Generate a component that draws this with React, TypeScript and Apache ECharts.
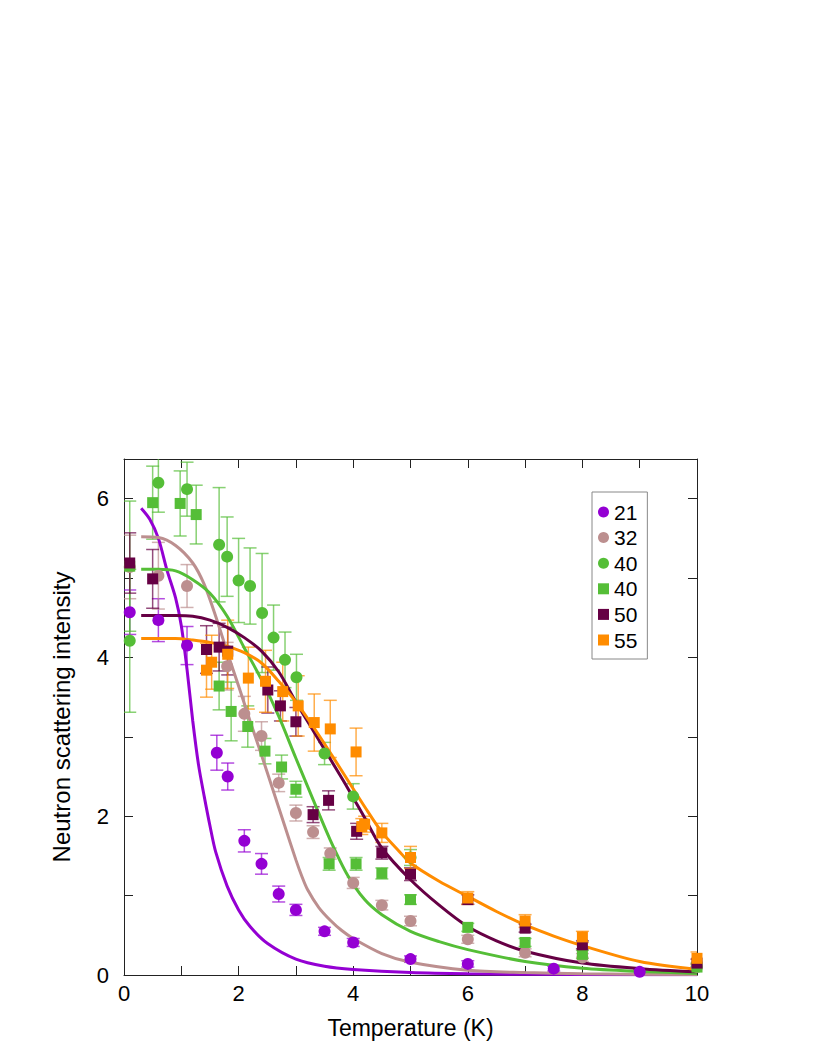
import React, { useEffect, useRef } from "react";
import * as echarts from "echarts";

const FONT = '"Liberation Sans", Arial, Helvetica, sans-serif';

// ---- colours ----
const C21 = "#9400D3";
const C32 = "#BC8F8F";
const C40 = "#55BE37";
const C50 = "#660044";
const C55 = "#FF8C00";

// ---- measured points (T in K, intensity, error) ----
const t21 = [0.1, 0.6, 1.1, 1.62, 1.81, 2.1, 2.4, 2.7, 3.0, 3.5, 4.0, 5.0, 6.0, 7.5, 9.0];
const i21 = [4.57, 4.47, 4.15, 2.8, 2.5, 1.69, 1.4, 1.02, 0.82, 0.55, 0.41, 0.2, 0.14, 0.08, 0.04];
const e21 = [0.28, 0.27, 0.24, 0.22, 0.17, 0.14, 0.13, 0.1, 0.07, 0.05, 0.05, 0.04, 0.04, 0.03, 0.03];

const t32 = [0.1, 0.6, 1.1, 1.8, 2.1, 2.4, 2.7, 3.0, 3.3, 3.6, 4.0, 4.5, 5.0, 6.0, 7.0, 8.0, 10.0];
const i32 = [5.14, 5.03, 4.9, 3.89, 3.29, 3.01, 2.42, 2.04, 1.8, 1.53, 1.16, 0.88, 0.68, 0.45, 0.28, 0.22, 0.1];
const e32 = [0.4, 0.42, 0.27, 0.3, 0.22, 0.18, 0.11, 0.1, 0.08, 0.07, 0.07, 0.06, 0.06, 0.05, 0.05, 0.05, 0.04];

const t40c = [0.1, 0.6, 1.1, 1.66, 1.8, 2.0, 2.2, 2.41, 2.61, 2.81, 3.01, 3.5, 4.0, 5.0];
const i40c = [4.21, 6.2, 6.12, 5.42, 5.27, 4.97, 4.9, 4.56, 4.25, 3.97, 3.75, 2.79, 2.25, 1.48];
const e40c = [0.9, 0.37, 0.34, 0.72, 0.5, 0.53, 0.48, 0.75, 0.41, 0.35, 0.29, 0.14, 0.16, 0.1];

const t40s = [0.1, 0.5, 0.98, 1.26, 1.66, 1.87, 2.16, 2.46, 2.75, 3.0, 3.58, 4.05, 4.5, 5.0, 6.0, 7.0, 8.0, 10.0];
const i40s = [5.15, 5.95, 5.94, 5.8, 3.64, 3.32, 3.13, 2.82, 2.62, 2.34, 1.4, 1.4, 1.28, 0.95, 0.6, 0.41, 0.26, 0.1];
const e40s = [0.82, 0.46, 0.41, 0.37, 0.3, 0.37, 0.26, 0.16, 0.15, 0.1, 0.08, 0.08, 0.07, 0.06, 0.05, 0.05, 0.05, 0.05];

const t50 = [0.1, 0.5, 1.44, 1.66, 1.81, 2.51, 2.73, 3.0, 3.3, 3.57, 4.06, 4.5, 5.0, 6.0, 7.0, 8.0, 10.0];
const i50 = [5.19, 4.99, 4.1, 4.13, 4.08, 3.59, 3.39, 3.19, 2.02, 2.2, 1.81, 1.54, 1.27, 0.95, 0.59, 0.38, 0.15];
const e50 = [0.38, 0.37, 0.3, 0.3, 0.3, 0.29, 0.19, 0.18, 0.1, 0.12, 0.1, 0.08, 0.08, 0.06, 0.05, 0.05, 0.05];

const t55 = [1.44, 1.53, 1.81, 2.17, 2.47, 2.77, 3.04, 3.32, 3.6, 4.05, 4.15, 4.2, 4.5, 5.0, 6.0, 7.0, 8.0, 10.0];
const i55 = [3.84, 3.94, 4.04, 3.74, 3.7, 3.57, 3.39, 3.18, 3.1, 2.81, 1.87, 1.9, 1.79, 1.48, 0.97, 0.68, 0.48, 0.21];
const e55 = [0.34, 0.34, 0.43, 0.39, 0.39, 0.37, 0.38, 0.36, 0.36, 0.3, 0.1, 0.1, 0.12, 0.14, 0.08, 0.08, 0.07, 0.08];

// ---- fitted curves ----
const f21T = [0.3, 0.45, 0.6, 0.75, 0.9, 1.0, 1.1, 1.2, 1.3, 1.4, 1.5, 1.6, 1.8, 2.0, 2.2, 2.5, 3.0, 3.5, 4.0, 5.0, 6.0, 8.0, 10.0];
const f21I = [5.88, 5.74, 5.5, 5.1, 4.75, 4.4, 3.85, 3.2, 2.65, 2.25, 1.88, 1.55, 1.12, 0.82, 0.61, 0.4, 0.2, 0.11, 0.07, 0.03, 0.015, 0.005, 0.002];

const f32T = [0.3, 0.6, 0.9, 1.2, 1.4, 1.6, 1.8, 2.0, 2.2, 2.4, 2.6, 2.8, 3.0, 3.1, 3.2, 3.4, 3.6, 3.8, 4.0, 4.5, 5.0, 6.0, 7.0, 8.0, 10.0];
const f32I = [5.52, 5.51, 5.41, 5.19, 4.92, 4.52, 4.07, 3.64, 3.2, 2.77, 2.33, 1.89, 1.45, 1.25, 1.08, 0.85, 0.69, 0.56, 0.46, 0.27, 0.16, 0.06, 0.03, 0.015, 0.005];

const f40T = [0.3, 0.6, 0.9, 1.2, 1.5, 1.8, 2.1, 2.4, 2.7, 3.0, 3.3, 3.6, 3.9, 4.2, 4.5, 5.0, 5.5, 6.0, 7.0, 8.0, 9.0, 10.0];
const f40I = [5.11, 5.11, 5.09, 4.98, 4.81, 4.52, 4.12, 3.72, 3.26, 2.73, 2.21, 1.7, 1.26, 0.95, 0.76, 0.55, 0.42, 0.32, 0.17, 0.085, 0.045, 0.02];

const f50T = [0.3, 0.9, 1.2, 1.5, 1.8, 2.1, 2.4, 2.7, 3.0, 3.3, 3.6, 3.9, 4.2, 4.5, 5.0, 5.5, 6.0, 6.5, 7.0, 8.0, 9.0, 10.0];
const f50I = [4.53, 4.53, 4.52, 4.47, 4.38, 4.25, 4.08, 3.82, 3.44, 3.08, 2.72, 2.36, 1.98, 1.6, 1.2, 0.88, 0.61, 0.43, 0.3, 0.15, 0.08, 0.04];

const f55T = [0.3, 0.9, 1.2, 1.5, 1.8, 2.1, 2.4, 2.7, 3.0, 3.3, 3.6, 3.9, 4.2, 4.5, 4.8, 5.0, 5.5, 6.0, 6.5, 7.0, 7.5, 8.0, 9.0, 10.0];
const f55I = [4.24, 4.24, 4.22, 4.19, 4.14, 4.06, 3.93, 3.7, 3.44, 3.13, 2.8, 2.46, 2.12, 1.8, 1.56, 1.41, 1.18, 0.99, 0.8, 0.63, 0.49, 0.37, 0.17, 0.07];

// ---- axis ----
const X_MIN = 0;
const X_MAX = 10;
const Y_MIN = 0;
const Y_MAX = 6.5;

type Pts = { key: string; label: string; color: string; symbol: string; size: number; t: number[]; v: number[]; e: number[] };

const POINTS: Pts[] = [
  { key: "s21", label: "21", color: C21, symbol: "circle", size: 12, t: t21, v: i21, e: e21 },
  { key: "s32", label: "32", color: C32, symbol: "circle", size: 12, t: t32, v: i32, e: e32 },
  { key: "s40c", label: "40", color: C40, symbol: "circle", size: 12, t: t40c, v: i40c, e: e40c },
  { key: "s40s", label: "40", color: C40, symbol: "rect", size: 11, t: t40s, v: i40s, e: e40s },
  { key: "s50", label: "50", color: C50, symbol: "rect", size: 11, t: t50, v: i50, e: e50 },
  { key: "s55", label: "55", color: C55, symbol: "rect", size: 11, t: t55, v: i55, e: e55 },
];

const CURVES = [
  { key: "f21", color: C21, t: f21T, v: f21I },
  { key: "f32", color: C32, t: f32T, v: f32I },
  { key: "f40", color: C40, t: f40T, v: f40I },
  { key: "f50", color: C50, t: f50T, v: f50I },
  { key: "f55", color: C55, t: f55T, v: f55I },
];

function errorSeries(p: Pts): any {
  return {
    type: "custom",
    name: p.key + "_err",
    xAxisIndex: 0,
    yAxisIndex: 0,
    clip: true,
    z: 2,
    silent: true,
    encode: { x: 0, y: 1 },
    data: p.t.map((t, i) => [t, p.v[i], p.e[i]]),
    renderItem: (params: any, api: any) => {
      const x = api.value(0);
      const y = api.value(1);
      const e = api.value(2);
      const top = api.coord([x, y + e]);
      const bot = api.coord([x, y - e]);
      const hw = 6.5;
      const style = { stroke: p.color, lineWidth: 1.5, opacity: 0.7 };
      return {
        type: "group",
        children: [
          { type: "line", shape: { x1: top[0], y1: top[1], x2: bot[0], y2: bot[1] }, style },
          { type: "line", shape: { x1: top[0] - hw, y1: top[1], x2: top[0] + hw, y2: top[1] }, style },
          { type: "line", shape: { x1: bot[0] - hw, y1: bot[1], x2: bot[0] + hw, y2: bot[1] }, style },
        ],
      };
    },
  };
}

export default function App() {
  const ref = useRef<HTMLDivElement>(null);

  useEffect(() => {
    if (!ref.current) return;
    const chart = echarts.init(ref.current, null, { renderer: "svg" });

    const axisLine = { show: true, onZero: false, lineStyle: { color: "#222", width: 1 } };
    const tick = { show: true, inside: true, length: 9, lineStyle: { color: "#222", width: 1 } };
    const evenLabel = (v: number) => (Math.abs(v % 2) < 1e-9 ? String(v) : "");

    const series: any[] = [];
    POINTS.forEach((p) => series.push(errorSeries(p)));
    CURVES.forEach((c) =>
      series.push({
        type: "line",
        name: c.key,
        xAxisIndex: 0,
        yAxisIndex: 0,
        data: c.t.map((t, i) => [t, c.v[i]]),
        smooth: 0.3,
        showSymbol: false,
        symbol: "none",
        z: 3,
        silent: true,
        lineStyle: { color: c.color, width: 3 },
        itemStyle: { color: c.color },
      })
    );
    POINTS.forEach((p) =>
      series.push({
        type: "scatter",
        name: p.key,
        xAxisIndex: 0,
        yAxisIndex: 0,
        symbol: p.symbol,
        symbolSize: p.size,
        z: 4,
        data: p.t.map((t, i) => [t, p.v[i]]),
        itemStyle: { color: p.color, opacity: 1 },
      })
    );

    const labelOf: Record<string, string> = {};
    POINTS.forEach((p) => (labelOf[p.key] = p.label));

    chart.setOption({
      animation: false,
      backgroundColor: "#fff",
      textStyle: { fontFamily: FONT },
      grid: { left: 124, top: 459, width: 573, height: 516, containLabel: false },
      legend: {
        show: true,
        orient: "vertical",
        left: 592,
        top: 492,
        padding: [9, 10, 8, 6],
        itemGap: 3.6,
        itemWidth: 11,
        itemHeight: 11,
        borderColor: "#888",
        borderWidth: 1,
        backgroundColor: "#fff",
        selectedMode: false,
        data: POINTS.map((p) => ({ name: p.key, icon: p.symbol })),
        formatter: (name: string) => labelOf[name] ?? name,
        textStyle: { fontFamily: FONT, fontSize: 21, color: "#000", lineHeight: 22 },
      },
      xAxis: [
        {
          type: "value",
          min: X_MIN,
          max: X_MAX,
          interval: 1,
          position: "bottom",
          name: "Temperature (K)",
          nameLocation: "middle",
          nameGap: 41,
          nameTextStyle: { fontFamily: FONT, fontSize: 23, color: "#000" },
          axisLine,
          axisTick: tick,
          axisLabel: { formatter: evenLabel, fontFamily: FONT, fontSize: 22, color: "#000", margin: 7 },
          splitLine: { show: false },
        },
        {
          type: "value",
          min: X_MIN,
          max: X_MAX,
          interval: 1,
          position: "top",
          axisLine,
          axisTick: tick,
          axisLabel: { show: false },
          splitLine: { show: false },
        },
      ],
      yAxis: [
        {
          type: "value",
          min: Y_MIN,
          max: Y_MAX,
          interval: 1,
          position: "left",
          name: "Neutron scattering intensity",
          nameLocation: "middle",
          nameGap: 51,
          nameRotate: 90,
          nameTextStyle: { fontFamily: FONT, fontSize: 24, color: "#000" },
          axisLine,
          axisTick: tick,
          axisLabel: { formatter: evenLabel, fontFamily: FONT, fontSize: 22, color: "#000", margin: 15 },
          splitLine: { show: false },
        },
        {
          type: "value",
          min: Y_MIN,
          max: Y_MAX,
          interval: 1,
          position: "right",
          axisLine,
          axisTick: tick,
          axisLabel: { show: false },
          splitLine: { show: false },
        },
      ],
      series,
    });

    return () => chart.dispose();
  }, []);

  return (
    <div
      ref={ref}
      style={{ position: "fixed", left: 0, top: 0, width: 822, height: 1064, background: "#fff" }}
    />
  );
}
